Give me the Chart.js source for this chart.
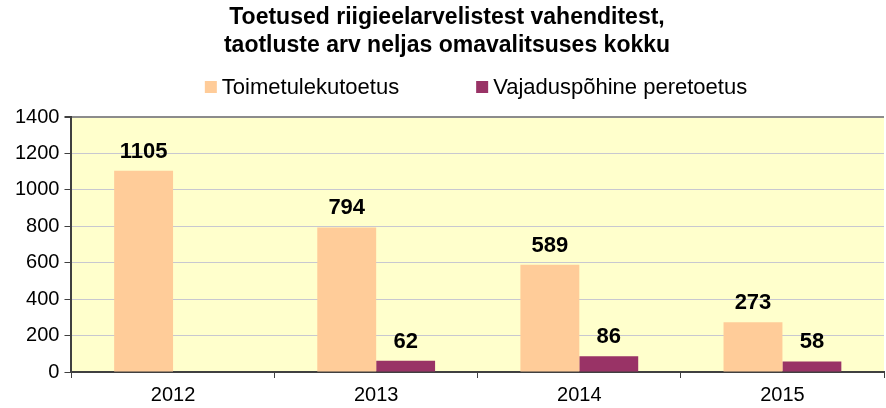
<!DOCTYPE html>
<html>
<head>
<meta charset="utf-8">
<script src="https://cdn.jsdelivr.net/npm/chart.js@4/dist/chart.umd.min.js"></script>
<style>
  body { margin: 0; background: #fff; }
  #wrap { width: 886px; height: 408px; }
</style>
</head>
<body>
<div id="wrap"><canvas id="chart"></canvas></div>
<script>
const years = ['2012', '2013', '2014', '2015'];
const toimetulek = [1105, 794, 589, 273];
const vajadus = [null, 62, 86, 58];
const yTicks = [0, 200, 400, 600, 800, 1000, 1200, 1400];

const FONT = '"Liberation Sans", Arial, sans-serif';

// light yellow plot area
const plotBg = {
    id: 'plotBg',
    beforeDraw(chart) {
        const a = chart.chartArea;
        const ctx = chart.ctx;
        ctx.save();
        ctx.fillStyle = '#FFFFCC';
        ctx.fillRect(a.left, a.top, a.right - a.left, a.bottom - a.top);
        ctx.restore();
    }
};

// values above bars
const valueLabels = {
    id: 'valueLabels',
    afterDatasetsDraw(chart) {
        const ctx = chart.ctx;
        ctx.save();
        ctx.font = 'bold 22px ' + FONT;
        ctx.fillStyle = '#000';
        ctx.textAlign = 'center';
        ctx.textBaseline = 'alphabetic';
        chart.data.datasets.forEach((ds, i) => {
            chart.getDatasetMeta(i).data.forEach((bar, j) => {
                if (ds.data[j] == null) return;
                ctx.fillText(ds.data[j], bar.x, bar.y - 13);
            });
        });
        ctx.restore();
    }
};

// legend row under the title, items spaced wide like the original
const wideLegend = {
    id: 'wideLegend',
    afterDraw(chart) {
        const ctx = chart.ctx;
        const box = 12, gap = 5, between = 77, y = 87, center = 476;
        ctx.save();
        ctx.font = '22px ' + FONT;
        ctx.textBaseline = 'middle';
        ctx.textAlign = 'left';
        const items = chart.data.datasets.map(ds => ({
            text: ds.label, color: ds.backgroundColor, w: ctx.measureText(ds.label).width
        }));
        let total = items.reduce((s, it) => s + box + gap + it.w, 0) + between * (items.length - 1);
        let x = center - total / 2;
        items.forEach(it => {
            ctx.fillStyle = it.color;
            ctx.fillRect(x, y - box / 2, box, box);
            ctx.fillStyle = '#000';
            ctx.fillText(it.text, x + box + gap, y + 1);
            x += box + gap + it.w + between;
        });
        ctx.restore();
    }
};

new Chart(document.getElementById('chart'), {
    type: 'bar',
    data: {
        labels: years,
        datasets: [{
            label: 'Toimetulekutoetus',
            data: toimetulek,
            backgroundColor: '#FFCC99'
        }, {
            label: 'Vajaduspõhine peretoetus',
            data: vajadus,
            backgroundColor: '#993366'
        }]
    },
    options: {
        responsive: true,
        maintainAspectRatio: false,
        animation: false,
        categoryPercentage: 0.58,
        barPercentage: 1,
        layout: { padding: { left: 10, right: 2, bottom: 0, top: 0 } },
        plugins: {
            legend: { display: false },
            title: {
                display: true,
                text: ['Toetused riigieelarvelistest vahenditest,', 'taotluste arv neljas omavalitsuses kokku'],
                color: '#000',
                font: { family: FONT, size: 23, weight: 'bold', lineHeight: 1.22 },
                padding: { top: 4, bottom: 57 }
            },
            tooltip: { enabled: false }
        },
        scales: {
            x: {
                afterFit(axis) { axis.height = 36; },
                grid: { offset: true, drawOnChartArea: false, tickColor: '#404040', tickLength: 6 },
                border: { color: '#404040', width: 2 },
                ticks: { color: '#000', font: { family: FONT, size: 20 }, padding: 5 }
            },
            y: {
                min: 0,
                max: 1400,
                afterBuildTicks(axis) { axis.ticks = yTicks.map(v => ({ value: v })); },
                grid: {
                    color: ctx => ctx.tick && ctx.tick.value === 1400 ? '#8C8C8C' : '#C8C8D0',
                    lineWidth: ctx => ctx.tick && ctx.tick.value === 1400 ? 2 : 1,
                    tickColor: '#404040',
                    tickLength: 7
                },
                border: { color: '#404040', width: 2 },
                ticks: {
                    color: '#000',
                    font: { family: FONT, size: 20 },
                    padding: 5,
                    callback: v => String(v)
                }
            }
        }
    },
    plugins: [plotBg, valueLabels, wideLegend]
});
</script>
</body>
</html>
